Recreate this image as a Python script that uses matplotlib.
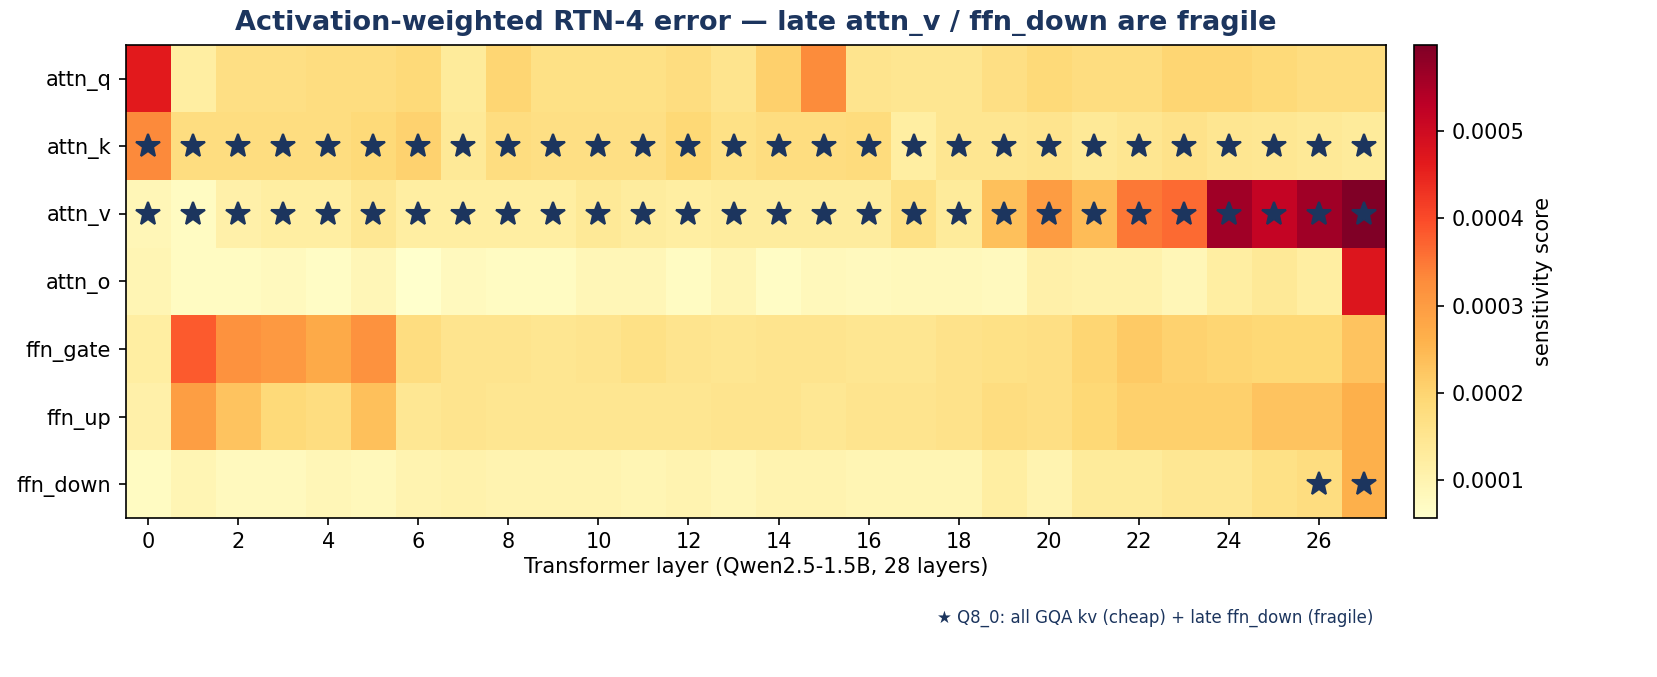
import matplotlib
matplotlib.use("Agg")
import matplotlib.pyplot as plt
import numpy as np

# sensitivity scores, in units of 1e-4
rows = ["attn_q", "attn_k", "attn_v", "attn_o", "ffn_gate", "ffn_up", "ffn_down"]
layers = list(range(28))
scale = 1e-4

attn_q = [4.63, 1.22, 1.71, 1.71, 1.76, 1.76, 1.87, 1.33, 1.98, 1.65, 1.65, 1.65, 1.76, 1.54,
          2.08, 3.28, 1.54, 1.49, 1.49, 1.71, 1.87, 1.76, 1.76, 1.98, 1.98, 1.87, 1.76, 1.76]
attn_k = [3.30, 1.76, 1.76, 1.76, 1.76, 1.87, 2.03, 1.38, 1.76, 1.71, 1.71, 1.71, 1.92, 1.65,
          1.76, 1.76, 1.81, 1.22, 1.49, 1.49, 1.54, 1.38, 1.49, 1.60, 1.49, 1.44, 1.38, 1.33]
attn_v = [0.89, 0.73, 1.11, 1.22, 1.22, 1.44, 1.22, 1.22, 1.22, 1.22, 1.38, 1.27, 1.22, 1.27,
          1.27, 1.27, 1.27, 1.65, 1.33, 2.36, 3.00, 2.41, 3.49, 3.65, 5.60, 5.17, 5.60, 5.98]
attn_o = [0.95, 0.73, 0.73, 0.79, 0.68, 0.89, 0.57, 0.79, 0.73, 0.73, 0.89, 0.89, 0.73, 0.95,
          0.68, 0.84, 0.79, 0.84, 0.84, 0.79, 1.11, 1.06, 1.06, 0.89, 1.22, 1.38, 1.22, 4.74]
ffn_gate = [1.22, 3.82, 3.17, 3.06, 2.73, 3.17, 1.76, 1.54, 1.54, 1.49, 1.54, 1.65, 1.54, 1.49,
            1.54, 1.54, 1.49, 1.49, 1.60, 1.65, 1.71, 1.98, 2.19, 2.03, 1.98, 1.92, 1.92, 2.30]
ffn_up = [1.11, 2.95, 2.30, 1.87, 1.76, 2.36, 1.44, 1.54, 1.49, 1.49, 1.49, 1.49, 1.49, 1.54,
          1.54, 1.44, 1.54, 1.54, 1.60, 1.76, 1.71, 1.92, 2.08, 2.08, 2.08, 2.30, 2.30, 2.63]
ffn_down = [0.73, 0.95, 0.79, 0.79, 0.89, 0.84, 1.00, 1.06, 1.00, 1.00, 1.00, 0.95, 1.00, 0.89,
            1.00, 1.00, 0.95, 0.95, 0.95, 1.22, 1.00, 1.33, 1.33, 1.44, 1.44, 1.65, 1.76, 2.63]

# Q8_0 picks: (row name, layer)
q8_picks = [("attn_k", l) for l in layers] + [("attn_v", l) for l in layers] + \
           [("ffn_down", 26), ("ffn_down", 27)]

navy = "#1c355e"

data = np.array([attn_q, attn_k, attn_v, attn_o, ffn_gate, ffn_up, ffn_down]) * scale

fig = plt.figure(figsize=(1657 / 150, 677 / 150), dpi=150)
ax = fig.add_axes([0.076, 0.235, 0.7605, 0.6985])
cax = fig.add_axes([0.8533, 0.235, 0.0139, 0.6985])

im = ax.imshow(data, aspect="auto", cmap="YlOrRd", interpolation="nearest")
ax.set_yticks(range(len(rows)))
ax.set_yticklabels(rows)
ax.set_xticks(layers[::2])
ax.set_xlabel("Transformer layer (Qwen2.5-1.5B, 28 layers)", labelpad=2)

for name, l in q8_picks:
    ax.plot(l, rows.index(name), marker="*", color=navy, markersize=12, linestyle="none")

ax.set_title("Activation-weighted RTN-4 error \u2014 late attn_v / ffn_down are fragile",
             fontsize=13, fontweight="bold", color=navy, pad=7)

cb = fig.colorbar(im, cax=cax)
cb.set_label("sensitivity score")

fig.text(0.8286, 0.088, "\u2605 Q8_0: all GQA kv (cheap) + late ffn_down (fragile)",
         ha="right", va="center", fontsize=8, color=navy)

fig.savefig("out.png", dpi=150)
